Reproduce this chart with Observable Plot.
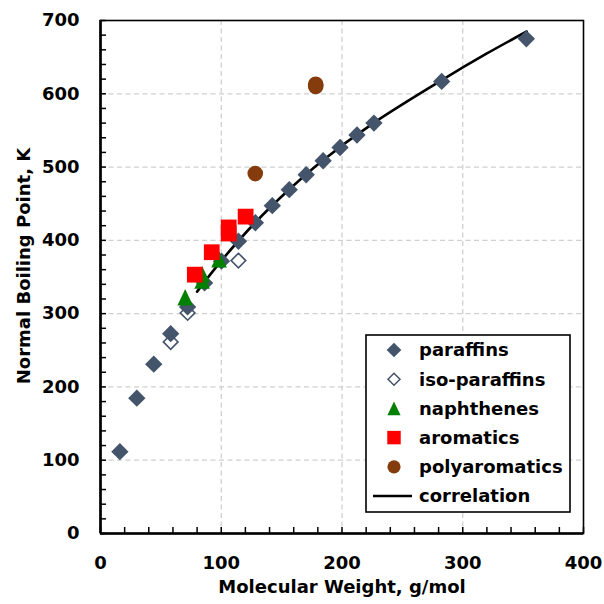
<!DOCTYPE html>
<html>
<head>
<meta charset="utf-8">
<script src="https://cdn.jsdelivr.net/npm/d3@7"></script>
<script src="https://cdn.jsdelivr.net/npm/@observablehq/plot@0.6"></script>
<style>
  body { margin: 0; background: #fff; }
  #chart { width: 604px; height: 604px; }
</style>
</head>
<body>
<div id="chart"></div>
<script>
// n-paraffins (C1–C16, C20, C25)
const paraffinMW = [16.04, 30.07, 44.10, 58.12, 72.15, 86.18, 100.20, 114.23, 128.26, 142.28, 156.31, 170.34, 184.37, 198.39, 212.42, 226.45, 282.55, 352.69];
const paraffinTb = [111.7, 184.6, 231.1, 272.7, 309.2, 341.9, 371.6, 398.8, 424.0, 447.3, 469.1, 489.5, 508.6, 526.7, 543.8, 560.0, 616.9, 675.0];

// iso-paraffins: isobutane, isopentane, isooctane
const isoMW = [58.12, 72.15, 114.23];
const isoTb = [261.4, 301.0, 372.4];

// naphthenes: cyclopentane, methylcyclopentane, cyclohexane, methylcyclohexane
const naphMW = [70.13, 84.16, 84.16, 98.19];
const naphTb = [322.4, 345.0, 353.9, 374.1];

// aromatics: benzene, toluene, ethylbenzene, o-xylene, n-propylbenzene
const aroMW = [78.11, 92.14, 106.17, 106.17, 120.19];
const aroTb = [353.2, 383.8, 409.3, 417.6, 432.4];

// polyaromatics: naphthalene, phenanthrene, anthracene
const polyMW = [128.17, 178.23, 178.23];
const polyTb = [491.1, 610.0, 613.0];

// correlation curve
const corrMW = [80, 100, 128, 156, 184, 226, 282, 320, 353];
const corrTb = [330, 372, 424, 469, 509, 560, 618, 655, 685];

const xTicks = [0, 100, 200, 300, 400];
const yTicks = [0, 100, 200, 300, 400, 500, 600, 700];

const series = [
  {name: "paraffins", mw: paraffinMW, tb: paraffinTb},
  {name: "iso-paraffins", mw: isoMW, tb: isoTb},
  {name: "naphthenes", mw: naphMW, tb: naphTb},
  {name: "aromatics", mw: aroMW, tb: aroTb},
  {name: "polyaromatics", mw: polyMW, tb: polyTb}
];
const rows = (s) => s.mw.map((m, i) => ({mw: m, tb: s.tb[i]}));
const corr = corrMW.map((m, i) => ({mw: m, tb: corrTb[i]}));

const colBlue = "#44546a", colGreen = "#008000", colRed = "#ff0000", colBrown = "#843c0c";

// upright triangle with equal width and height
const triangle = {
  draw(ctx, size) {
    const r = Math.sqrt(size / Math.PI);
    const h = r * 1.05;
    ctx.moveTo(0, -h);
    ctx.lineTo(h * 0.95, h);
    ctx.lineTo(-h * 0.95, h);
    ctx.closePath();
  }
};

const font = "'DejaVu Sans', sans-serif";

const chart = Plot.plot({
  width: 604,
  height: 604,
  marginLeft: 100,
  marginRight: 21,
  marginTop: 20,
  marginBottom: 71,
  style: {fontFamily: font, fontSize: "18px", fontWeight: "bold", color: "#000", background: "#fff"},
  x: {domain: [0, 400], axis: null},
  y: {domain: [0, 700], axis: null},
  marks: [
    Plot.gridX([100, 200, 300], {stroke: "#d0d0d0", strokeOpacity: 1, strokeWidth: 1.3, strokeDasharray: "5,3.5"}),
    Plot.gridY([100, 200, 300, 400, 500, 600], {stroke: "#d0d0d0", strokeOpacity: 1, strokeWidth: 1.3, strokeDasharray: "5,3.5"}),
    Plot.frame({stroke: "#000", strokeWidth: 1.6}),
    Plot.axisX(d3.range(0, 401, 20), {tickSize: -6, tickFormat: () => "", strokeWidth: 1.5, label: null}),
    Plot.axisY(d3.range(0, 701, 20), {tickSize: -6, tickFormat: () => "", strokeWidth: 1.5, label: null}),
    Plot.axisX(xTicks, {tickSize: 0, tickPadding: 23, fontSize: 18, fontWeight: "bold", label: null}),
    Plot.axisY(yTicks, {tickSize: 0, tickPadding: 21, fontSize: 18, fontWeight: "bold", label: null}),
    Plot.ruleX([0], {stroke: "#000", strokeWidth: 2.6}),
    Plot.ruleY([0], {stroke: "#000", strokeWidth: 2.6}),
    Plot.line(corr, {x: "mw", y: "tb", stroke: "#000", strokeWidth: 2.6, curve: "catmull-rom"}),
    Plot.dot(rows(series[1]), {x: "mw", y: "tb", symbol: "diamond2", r: 6.6, fill: "#fff", stroke: colBlue, strokeWidth: 1.6}),
    Plot.dot(rows(series[0]), {x: "mw", y: "tb", symbol: "diamond2", r: 7.8, fill: colBlue}),
    Plot.dot(rows(series[2]), {x: "mw", y: "tb", symbol: triangle, r: 7.8, fill: colGreen}),
    Plot.dot(rows(series[3]), {x: "mw", y: "tb", symbol: "square", r: 8.9, fill: colRed}),
    Plot.dot(rows(series[4]), {x: "mw", y: "tb", symbol: "circle", r: 7.8, fill: colBrown}),
    Plot.text(["Molecular Weight, g/mol"], {frameAnchor: "bottom", dy: 54, fontSize: 18, fontWeight: "bold", lineAnchor: "middle"}),
    Plot.text(["Normal Boiling Point, K"], {frameAnchor: "left", textAnchor: "middle", dx: -76, dy: -11, rotate: -90, fontSize: 18, fontWeight: "bold", lineAnchor: "middle"})
  ]
});

// legend box in the lower right of the plot area
const svg = d3.select(chart);
const lg = svg.append("g").attr("font-family", font).attr("font-size", 18).attr("font-weight", "bold").attr("text-anchor", "start");
lg.append("rect").attr("x", 366).attr("y", 335).attr("width", 204).attr("height", 177)
  .attr("fill", "#fff").attr("stroke", "#000").attr("stroke-width", 1.6);
const legendItems = [
  {label: "paraffins", type: d3.symbolDiamond2, r: 6.6, fill: colBlue, stroke: "none"},
  {label: "iso-paraffins", type: d3.symbolDiamond2, r: 5.4, fill: "#fff", stroke: colBlue},
  {label: "naphthenes", type: triangle, r: 6.6, fill: colGreen, stroke: "none"},
  {label: "aromatics", type: d3.symbolSquare, r: 7.6, fill: colRed, stroke: "none"},
  {label: "polyaromatics", type: d3.symbolCircle, r: 6.6, fill: colBrown, stroke: "none"},
  {label: "correlation", line: true}
];
legendItems.forEach((d, i) => {
  const cy = 350 + i * 29.2;
  if (d.line) {
    lg.append("line").attr("x1", 373).attr("x2", 412).attr("y1", cy).attr("y2", cy)
      .attr("stroke", "#000").attr("stroke-width", 2.6);
  } else {
    lg.append("path").attr("transform", `translate(394,${cy})`)
      .attr("d", d3.symbol(d.type, d.r * d.r * Math.PI)())
      .attr("fill", d.fill).attr("stroke", d.stroke).attr("stroke-width", 1.5);
  }
  lg.append("text").attr("x", 419).attr("y", cy).attr("dy", "0.36em").attr("text-anchor", "start").text(d.label);
});

document.getElementById("chart").append(chart);
</script>
</body>
</html>
